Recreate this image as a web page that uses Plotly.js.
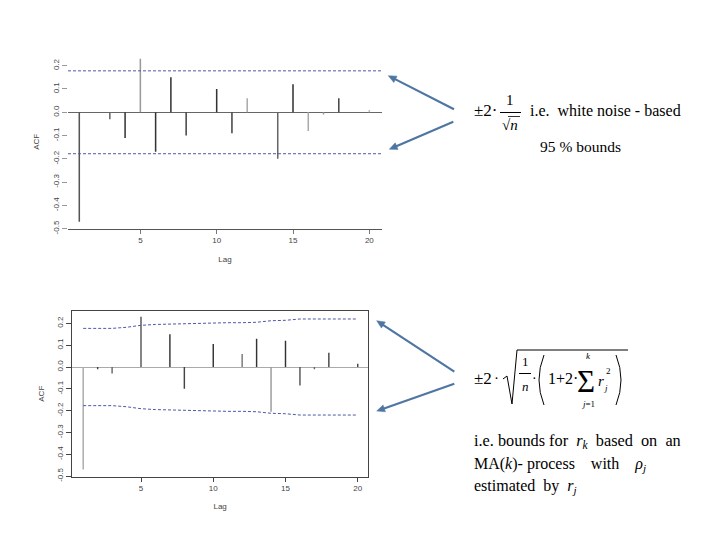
<!DOCTYPE html>
<html>
<head>
<meta charset="utf-8">
<script src="https://cdn.plot.ly/plotly-3.0.1.min.js"></script>
<style>html,body{margin:0;padding:0;background:#fff;}#plot{width:720px;height:540px;}</style>
</head>
<body>
<div id="plot"></div>
<script>
// ---------- data ----------
const lags = [1,2,3,4,5,6,7,8,9,10,11,12,13,14,15,16,17,18,19,20];
const acfWhiteNoise = [-0.47, 0.00, -0.03, -0.11, 0.23, -0.17, 0.15, -0.10, 0.00, 0.10,
                       -0.09, 0.06, 0.00, -0.20, 0.12, -0.08, -0.01, 0.06, 0.00, 0.01];
const whiteNoiseBound = 0.178;
const acfMA = [-0.47, -0.01, -0.03, 0.00, 0.23, 0.00, 0.15, -0.10, 0.00, 0.105,
               0.00, 0.06, 0.13, -0.205, 0.12, -0.085, -0.01, 0.065, 0.00, 0.015];
const maBound = [0.177, 0.177, 0.177, 0.182, 0.191, 0.195, 0.197, 0.200, 0.200, 0.201,
                 0.203, 0.203, 0.205, 0.212, 0.214, 0.220, 0.220, 0.220, 0.220, 0.220];
const xTickVals = [5, 10, 15, 20];
const yTickVals = [-0.5, -0.4, -0.3, -0.2, -0.1, 0.0, 0.1, 0.2];
const yTickText = ["-0.5", "-0.4", "-0.3", "-0.2", "-0.1", "0.0", "0.1", "0.2"];
const xTitle = "Lag", yTitle = "ACF";

// ---------- styles ----------
const shadesTop = ['#555','#555','#666','#333','#999','#333','#333','#444','#555','#333',
                   '#444','#aaa','#555','#666','#333','#aaa','#999','#444','#888','#bbb'];
const shadesBot = ['#aaa','#444','#666','#555','#555','#555','#333','#444','#555','#333',
                   '#555','#777','#333','#999','#333','#555','#666','#444','#555','#444'];
const W = 720, H = 540;
const px = x => x / W, py = y => 1 - y / H;
const SANS = 'Liberation Sans, Arial, sans-serif';
const SERIF = 'Liberation Serif, Times New Roman, serif';
const BLUE = '#4a5aa8';
const ARROW = '#4f76a3';
const tickFont = {family: SANS, size: 8, color: '#444'};
const titleFont = {family: SANS, size: 8, color: '#444'};

const traces = [
  {type: 'bar', x: lags, y: acfWhiteNoise, width: 0.1, xaxis: 'x', yaxis: 'y',
   marker: {color: shadesTop, line: {width: 0}}, hoverinfo: 'skip'},
  {type: 'bar', x: lags, y: acfMA, width: 0.1, xaxis: 'x2', yaxis: 'y2',
   marker: {color: shadesBot, line: {width: 0}}, hoverinfo: 'skip'},
  {type: 'scatter', mode: 'lines', x: lags, y: maBound, xaxis: 'x2', yaxis: 'y2',
   line: {color: BLUE, width: 1, dash: '3px,2px'}, hoverinfo: 'skip'},
  {type: 'scatter', mode: 'lines', x: lags, y: maBound.map(v => -v), xaxis: 'x2', yaxis: 'y2',
   line: {color: BLUE, width: 1, dash: '3px,2px'}, hoverinfo: 'skip'}
];

function ann(text, x, y, size, extra) {
  return Object.assign({text: text, xref: 'paper', yref: 'paper', x: px(x), y: py(y),
    showarrow: false, xanchor: 'center', yanchor: 'middle',
    font: {family: SERIF, size: size, color: '#000'}}, extra || {});
}
function pline(x0, y0, x1, y1, w, c) {
  return {type: 'line', xref: 'paper', yref: 'paper', x0: px(x0), y0: py(y0), x1: px(x1), y1: py(y1),
    line: {color: c || '#000', width: w || 1}};
}
function ppath(pts, w, fill) {
  let d = '';
  pts.forEach(p => {
    d += p[0];
    for (let i = 1; i < p.length; i += 2) d += ' ' + px(p[i]).toFixed(5) + ',' + py(p[i + 1]).toFixed(5) + ' ';
  });
  const s = {type: 'path', xref: 'paper', yref: 'paper', path: d, line: {color: '#000', width: w || 1}};
  if (fill) { s.fillcolor = fill; s.line = {color: fill, width: w || 1}; }
  return s;
}
// arrow drawn as shapes: shaft + filled triangular head
function arrowShapes(hx, hy, tx, ty) {
  const dx = hx - tx, dy = hy - ty, L = Math.hypot(dx, dy);
  const ux = dx / L, uy = dy / L, hl = 8, hw = 3.6;
  const bx = hx - ux * hl, by = hy - uy * hl;
  return [
    pline(tx, ty, bx + ux * 1, by + uy * 1, 2.2, ARROW),
    ppath([['M', hx, hy], ['L', bx - uy * hw, by + ux * hw], ['L', bx + uy * hw, by - ux * hw], ['Z']], 0.5, ARROW)
  ];
}

const annotations = [
  // top formula
  ann('±2·', 472, 110, 17, {xanchor: 'left'}),
  ann('1', 510, 100, 15),
  ann('√<i>n</i>', 510, 125, 15),
  ann('i.e.  white noise - based', 528, 110, 16, {xanchor: 'left'}),
  ann('95 % bounds', 538, 147, 15.5, {xanchor: 'left'}),
  // bottom formula
  ann('±2', 472, 378, 17, {xanchor: 'left'}),
  ann('·', 496.5, 378, 15),
  ann('1', 525, 361, 13),
  ann('<i>n</i>', 525, 386, 13),
  ann('·', 534, 378, 14),
  ann('1+2·', 546, 378, 16, {xanchor: 'left'}),
  ann('Σ', 586, 381, 31),
  ann('<i>k</i>', 588, 356, 9),
  ann('<i>j</i>=1', 588, 404, 9),
  ann('<i>r</i>', 601, 381, 15),
  ann('<i>j</i>', 605.5, 387.5, 9),
  ann('2', 608, 371, 9),
  // bottom text
  ann('i.e. bounds for  <i>r<sub>k</sub></i>  based  on  an', 472, 441, 16.3, {xanchor: 'left'}),
  ann('MA(<i>k</i>)- process    with    <i>ρ<sub>j</sub></i>', 472, 464, 16, {xanchor: 'left'}),
  ann('estimated  by  <i>r<sub>j</sub></i>', 472, 486, 16, {xanchor: 'left'})
];

const shapes = [
  // white-noise bounds (top)
  {type: 'line', xref: 'x domain', yref: 'y', x0: 0, x1: 1, y0: whiteNoiseBound, y1: whiteNoiseBound,
   line: {color: BLUE, width: 1, dash: '3px,2px'}},
  {type: 'line', xref: 'x domain', yref: 'y', x0: 0, x1: 1, y0: -whiteNoiseBound, y1: -whiteNoiseBound,
   line: {color: BLUE, width: 1, dash: '3px,2px'}},
  // top fraction bar and radical bar
  pline(500, 112.5, 521, 112.5, 1),
  pline(508, 116.5, 520, 116.5, 0.8),
  // bottom radical
  ppath([['M', 503, 379], ['L', 507, 376], ['L', 512, 404], ['L', 517, 350], ['L', 628, 350]], 1),
  pline(519, 373.5, 531, 373.5, 1),
  // big parentheses
  ppath([['M', 544, 355], ['Q', 534, 380, 544, 405]], 1),
  ppath([['M', 616, 355], ['Q', 626, 380, 616, 405]], 1)
].concat(
  arrowShapes(388.3, 75.7, 454, 109.3),
  arrowShapes(389.3, 149.3, 453.3, 121.7),
  arrowShapes(376.7, 320.7, 454.3, 371.7),
  arrowShapes(376.7, 411, 454.3, 383.7)
);

const layout = {
  width: W, height: H,
  margin: {l: 0, r: 0, t: 0, b: 0},
  paper_bgcolor: '#fff', plot_bgcolor: 'rgba(0,0,0,0)',
  showlegend: false,
  xaxis: {domain: [px(68), px(382)], range: [0.26, 20.83], anchor: 'y',
    tickvals: xTickVals, ticks: 'outside', ticklen: 4, tickcolor: '#777',
    showline: true, linecolor: '#555', linewidth: 1, showgrid: false, zeroline: false,
    tickfont: tickFont, title: {text: xTitle, font: titleFont, standoff: 12}},
  yaxis: {domain: [py(228.7), py(55)], range: [-0.5, 0.246], anchor: 'x',
    tickvals: yTickVals, ticktext: yTickText, tickangle: -90, ticks: 'outside', ticklen: 5, tickcolor: '#999',
    showline: false, showgrid: false, zeroline: true, zerolinecolor: '#666', zerolinewidth: 1,
    tickfont: tickFont, title: {text: yTitle, font: titleFont, standoff: 10}},
  xaxis2: {domain: [px(72), px(368.3)], range: [0.225, 20.73], anchor: 'y2',
    tickvals: xTickVals, ticks: 'outside', ticklen: 4, tickcolor: '#444',
    showline: true, mirror: true, linecolor: '#444', linewidth: 1, showgrid: false, zeroline: false,
    tickfont: tickFont, title: {text: xTitle, font: titleFont, standoff: 11}},
  yaxis2: {domain: [py(476.7), py(310.7)], range: [-0.5025, 0.258], anchor: 'x2',
    tickvals: yTickVals, ticktext: yTickText, tickangle: -90, ticks: 'outside', ticklen: 5, tickcolor: '#444',
    showline: true, mirror: true, linecolor: '#444', linewidth: 1, showgrid: false,
    zeroline: true, zerolinecolor: '#aaa', zerolinewidth: 1,
    tickfont: tickFont, title: {text: yTitle, font: titleFont, standoff: 9}},
  annotations: annotations,
  shapes: shapes
};

Plotly.newPlot('plot', traces, layout, {displayModeBar: false, staticPlot: true});
</script>
</body>
</html>
